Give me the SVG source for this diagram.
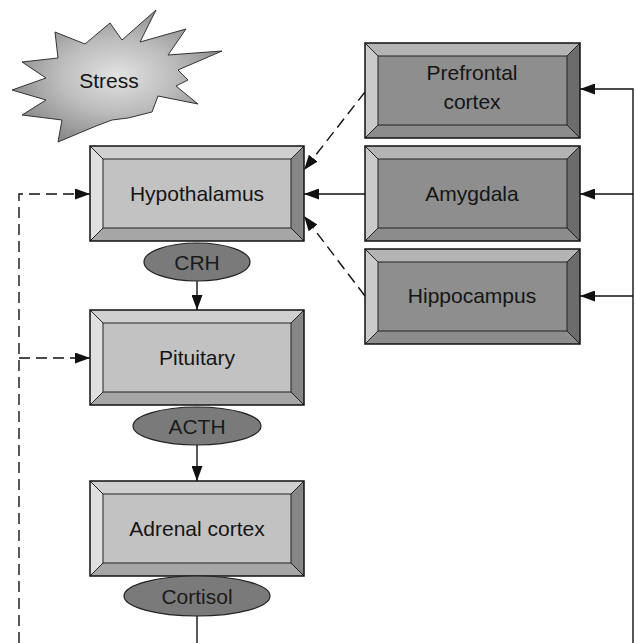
<svg xmlns="http://www.w3.org/2000/svg" xmlns:xlink="http://www.w3.org/1999/xlink" width="635" height="643" viewBox="0 0 635 643">
<style>
.lbl{font-family:"Liberation Sans",Arial,sans-serif;font-size:21px;fill:#151515;text-anchor:middle}
.hl{font-family:"Liberation Sans",Arial,sans-serif;font-size:21px;fill:#1a1a1a;text-anchor:middle}
.edge{stroke:#111;stroke-width:1.4;fill:none}
.dash{stroke-dasharray:11 6}
.ell{fill:#7a7a7a;stroke:#222;stroke-width:1.2}
.bl{stroke:#111;stroke-width:1.5;fill:none}
.bi{stroke:#222;stroke-width:1;fill:none}
</style>
<defs>
<marker id="ah" markerWidth="15" markerHeight="11" refX="15" refY="5.5" orient="auto" markerUnits="userSpaceOnUse">
<path d="M0,0 L15,5.5 L0,11 Z" fill="#111"/>
</marker>
<radialGradient id="sg" cx="0.5" cy="0.5" r="0.6">
<stop offset="0" stop-color="#e2e2e2"/>
<stop offset="0.45" stop-color="#bdbdbd"/>
<stop offset="1" stop-color="#7e7e7e"/>
</radialGradient>
<g id="boxL">
<polygon points="0,0 214,0 201,13 13,13" fill="#d0d0d0"/>
<polygon points="0,0 13,13 13,82 0,95" fill="#e0e0e0"/>
<polygon points="214,0 214,95 201,82 201,13" fill="#868686"/>
<polygon points="0,95 13,82 201,82 214,95" fill="#a6a6a6"/>
<rect x="13" y="13" width="188" height="69" fill="#c2c2c2"/>
<path d="M0,0 L13,13 M214,0 L201,13 M0,95 L13,82 M214,95 L201,82" class="bi"/>
<rect x="13" y="13" width="188" height="69" class="bi"/>
<rect x="0" y="0" width="214" height="95" class="bl"/>
</g>
<g id="boxR">
<polygon points="0,0 215,0 202,13 13,13" fill="#b4b4b4"/>
<polygon points="0,0 13,13 13,82 0,95" fill="#cacaca"/>
<polygon points="215,0 215,95 202,82 202,13" fill="#6c6c6c"/>
<polygon points="0,95 13,82 202,82 215,95" fill="#8c8c8c"/>
<rect x="13" y="13" width="189" height="69" fill="#8e8e8e"/>
<path d="M0,0 L13,13 M215,0 L202,13 M0,95 L13,82 M215,95 L202,82" class="bi"/>
<rect x="13" y="13" width="189" height="69" class="bi"/>
<rect x="0" y="0" width="215" height="95" class="bl"/>
</g>
</defs>
<rect width="635" height="643" fill="#ffffff"/>

<g id="connectors">
<line x1="197" y1="281" x2="197" y2="310" class="edge" marker-end="url(#ah)"/>
<line x1="197" y1="445" x2="197" y2="481" class="edge" marker-end="url(#ah)"/>
<line x1="197" y1="615" x2="197" y2="643" class="edge"/>
<polyline points="19,643 19,194 90,194" class="edge dash" marker-end="url(#ah)"/>
<polyline points="19,358 90,358" class="edge dash" marker-end="url(#ah)"/>
<line x1="365" y1="194" x2="304" y2="194" class="edge" marker-end="url(#ah)"/>
<line x1="365" y1="92" x2="304" y2="170" class="edge dash" marker-end="url(#ah)"/>
<line x1="365" y1="296" x2="304" y2="216" class="edge dash" marker-end="url(#ah)"/>
<polyline points="633,643 633,89 580,89" class="edge" marker-end="url(#ah)"/>
<line x1="633" y1="194" x2="580" y2="194" class="edge" marker-end="url(#ah)"/>
<line x1="633" y1="296" x2="580" y2="296" class="edge" marker-end="url(#ah)"/>
</g>

<g id="stress">
<polygon points="156,10 140,42 186,29 168,55 222,51 178,70 188,80 176,86 198,104 158,96 152,112 128,118 112,120 96,126 58,142 62,120 22,115 46,100 12,90 46,78 22,62 58,58 55,32 85,44 110,23 122,40" fill="url(#sg)" stroke="#333" stroke-width="1"/>
<text x="109" y="88" class="lbl">Stress</text>
</g>

<g id="hypothalamus">
<use xlink:href="#boxL" x="90" y="146"/>
<text x="197" y="201" class="lbl">Hypothalamus</text>
</g>
<g id="crh">
<ellipse cx="197" cy="262" rx="53" ry="19" class="ell"/>
<text x="197" y="270" class="hl">CRH</text>
</g>
<g id="pituitary">
<use xlink:href="#boxL" x="90" y="310"/>
<text x="197" y="365" class="lbl">Pituitary</text>
</g>
<g id="acth">
<ellipse cx="197" cy="426" rx="64" ry="19" class="ell"/>
<text x="197" y="434" class="hl">ACTH</text>
</g>
<g id="adrenal">
<use xlink:href="#boxL" x="90" y="481"/>
<text x="197" y="536" class="lbl">Adrenal cortex</text>
</g>
<g id="cortisol">
<ellipse cx="197" cy="596" rx="73" ry="20" class="ell"/>
<text x="197" y="604" class="hl">Cortisol</text>
</g>
<g id="prefrontal">
<use xlink:href="#boxR" x="365" y="43"/>
<text x="472" y="80" class="lbl">Prefrontal</text>
<text x="472" y="109" class="lbl">cortex</text>
</g>
<g id="amygdala">
<use xlink:href="#boxR" x="365" y="146"/>
<text x="472" y="201" class="lbl">Amygdala</text>
</g>
<g id="hippocampus">
<use xlink:href="#boxR" x="365" y="249"/>
<text x="472" y="303" class="lbl">Hippocampus</text>
</g>
</svg>
